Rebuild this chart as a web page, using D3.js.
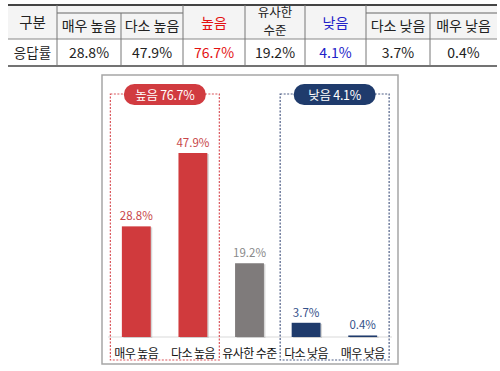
<!DOCTYPE html>
<html>
<head>
<meta charset="utf-8">
<script src="https://cdn.jsdelivr.net/npm/d3@7"></script>
<style>
  body { margin: 0; background: #fff; }
  text { font-family: "Noto Sans CJK KR", "Noto Sans", sans-serif; }
</style>
</head>
<body>
<div id="chart"></div>
<script>
// table data
const tableHeaders = ["구분", "매우 높음", "다소 높음", "높음", "유사한 수준", "낮음", "다소 낮음", "매우 낮음"];
const tableRow = ["응답률", "28.8%", "47.9%", "76.7%", "19.2%", "4.1%", "3.7%", "0.4%"];

// chart data
const categories = ["매우 높음", "다소 높음", "유사한 수준", "다소 낮음", "매우 낮음"];
const values = [28.8, 47.9, 19.2, 3.7, 0.4];
const groupNames = ["높음", "낮음"];
const groupTotals = [76.7, 4.1];
const groupMembers = [["매우 높음", "다소 높음"], ["다소 낮음", "매우 낮음"]];

const width = 500, height = 371;

const svg = d3.select("#chart")
  .append("svg")
  .attr("width", width)
  .attr("height", height);

// ---------- table ----------

const colEdges = [8, 57, 121, 183, 245, 305, 366, 430, 497];
const yTop = 5, yMid = 39, yBot = 66, ySub = 13;

const headColor = (d) => d === "높음" || d === "76.7%" ? "#e31212" : d === "낮음" || d === "4.1%" ? "#2121c8" : "#222";

const table = svg.append("g");

table.append("rect")
  .attr("x", colEdges[0]).attr("y", yTop)
  .attr("width", colEdges[8] - colEdges[0]).attr("height", yMid - yTop)
  .attr("fill", "#f4f4f4");

// horizontal lines
table.append("line").attr("x1", colEdges[0]).attr("x2", colEdges[8])
  .attr("y1", yTop).attr("y2", yTop).attr("stroke", "#444").attr("stroke-width", 2);
table.append("line").attr("x1", colEdges[0]).attr("x2", colEdges[8])
  .attr("y1", yMid).attr("y2", yMid).attr("stroke", "#888").attr("stroke-width", 1);
table.append("line").attr("x1", colEdges[0]).attr("x2", colEdges[8])
  .attr("y1", yBot).attr("y2", yBot).attr("stroke", "#444").attr("stroke-width", 1.5);

// sub header lines above the detail columns
[[1, 3], [6, 8]].forEach(([a, b]) => {
  table.append("line").attr("x1", colEdges[a]).attr("x2", colEdges[b])
    .attr("y1", ySub).attr("y2", ySub).attr("stroke", "#666").attr("stroke-width", 1);
});

// vertical lines
colEdges.slice(1, 8).forEach((x, i) => {
  const sub = i === 1 || i === 6;
  table.append("line").attr("x1", x).attr("x2", x)
    .attr("y1", sub ? ySub : yTop).attr("y2", yBot)
    .attr("stroke", "#777").attr("stroke-width", 1);
});

// header texts
tableHeaders.forEach((h, i) => {
  const cx = (colEdges[i] + colEdges[i + 1]) / 2;
  const t = table.append("text")
    .attr("x", cx)
    .attr("text-anchor", "middle")
    .attr("fill", headColor(h))
    .attr("font-size", i === 0 ? 14.5 : 14);
  if (h === "유사한 수준") {
    t.attr("font-size", 12.5);
    t.append("tspan").attr("x", cx).attr("y", 17).text("유사한");
    t.append("tspan").attr("x", cx).attr("y", 35).text("수준");
  } else {
    const sub = i === 1 || i === 2 || i === 6 || i === 7;
    t.attr("y", sub ? 31 : 28).text(h);
  }
});

tableRow.forEach((v, i) => {
  table.append("text")
    .attr("x", (colEdges[i] + colEdges[i + 1]) / 2)
    .attr("y", 58)
    .attr("text-anchor", "middle")
    .attr("fill", headColor(v))
    .attr("font-size", i === 0 ? 13.5 : 14)
    .text(v);
});

// ---------- chart ----------

svg.append("rect")
  .attr("x", 102).attr("y", 75)
  .attr("width", 296).attr("height", 289)
  .attr("fill", "#fff")
  .attr("stroke", "#a6a6a6")
  .attr("stroke-width", 1.5);

const x = d3.scaleBand()
  .domain(categories)
  .range([108, 391])
  .paddingInner(0.49)
  .paddingOuter(0.245);

const y = d3.scaleLinear()
  .domain([0, 47.9])
  .range([337, 153]);

const barColors = ["#d03a3d", "#d03a3d", "#7f7b7b", "#1f3b6c", "#1f3b6c"];
const labelColors = ["#c8474a", "#c8474a", "#8a8a8a", "#34508a", "#34508a"];
const boxColors = ["#d9545a", "#4e5e86"];
const pillColors = ["#d13b40", "#1f3b6c"];

// baseline
svg.append("line")
  .attr("x1", 108).attr("x2", 392)
  .attr("y1", y(0)).attr("y2", y(0))
  .attr("stroke", "#d9d9d9").attr("stroke-width", 1);

// group boxes
groupNames.forEach((g, i) => {
  const members = groupMembers[i];
  const x0 = x(members[0]) - 11.5;
  const x1 = x(members[1]) + x.bandwidth() + 12;
  const cx = (x0 + x1) / 2;
  svg.append("rect")
    .attr("x", x0).attr("y", 94)
    .attr("width", x1 - x0).attr("height", 266)
    .attr("fill", "none")
    .attr("stroke", boxColors[i])
    .attr("stroke-width", 1.2)
    .attr("stroke-dasharray", "2,1.5");
  svg.append("rect")
    .attr("x", cx - 41).attr("y", 84)
    .attr("width", 82).attr("height", 21)
    .attr("rx", 10.5)
    .attr("fill", pillColors[i]);
  svg.append("text")
    .attr("x", cx).attr("y", 99.5)
    .attr("text-anchor", "middle")
    .attr("fill", "#fff")
    .attr("font-size", 12.5)
    .attr("letter-spacing", -0.3)
    .text(g + " " + groupTotals[i] + "%");
});

// bars
svg.append("g")
  .selectAll("rect")
  .data(values)
  .join("rect")
  .attr("x", (d, i) => x(categories[i]) + 1.5)
  .attr("y", (d) => y(d) + 1)
  .attr("width", x.bandwidth())
  .attr("height", (d) => y(0) - y(d))
  .attr("fill", "#bbb")
  .attr("opacity", 0.6);

svg.append("g")
  .selectAll("rect")
  .data(values)
  .join("rect")
  .attr("x", (d, i) => x(categories[i]))
  .attr("y", (d) => y(d))
  .attr("width", x.bandwidth())
  .attr("height", (d) => y(0) - y(d))
  .attr("fill", (d, i) => barColors[i]);

// value labels
svg.append("g")
  .selectAll("text")
  .data(values)
  .join("text")
  .attr("x", (d, i) => x(categories[i]) + x.bandwidth() / 2)
  .attr("y", (d) => y(d) - 6)
  .attr("text-anchor", "middle")
  .attr("font-size", 11.5)
  .attr("fill", (d, i) => labelColors[i])
  .text((d) => d + "%");

// category labels
svg.append("g")
  .selectAll("text")
  .data(categories)
  .join("text")
  .attr("x", (d) => x(d) + x.bandwidth() / 2)
  .attr("y", 357.5)
  .attr("text-anchor", "middle")
  .attr("font-size", 12)
  .attr("letter-spacing", -0.6)
  .attr("fill", "#111")
  .text((d) => d);
</script>
</body>
</html>
